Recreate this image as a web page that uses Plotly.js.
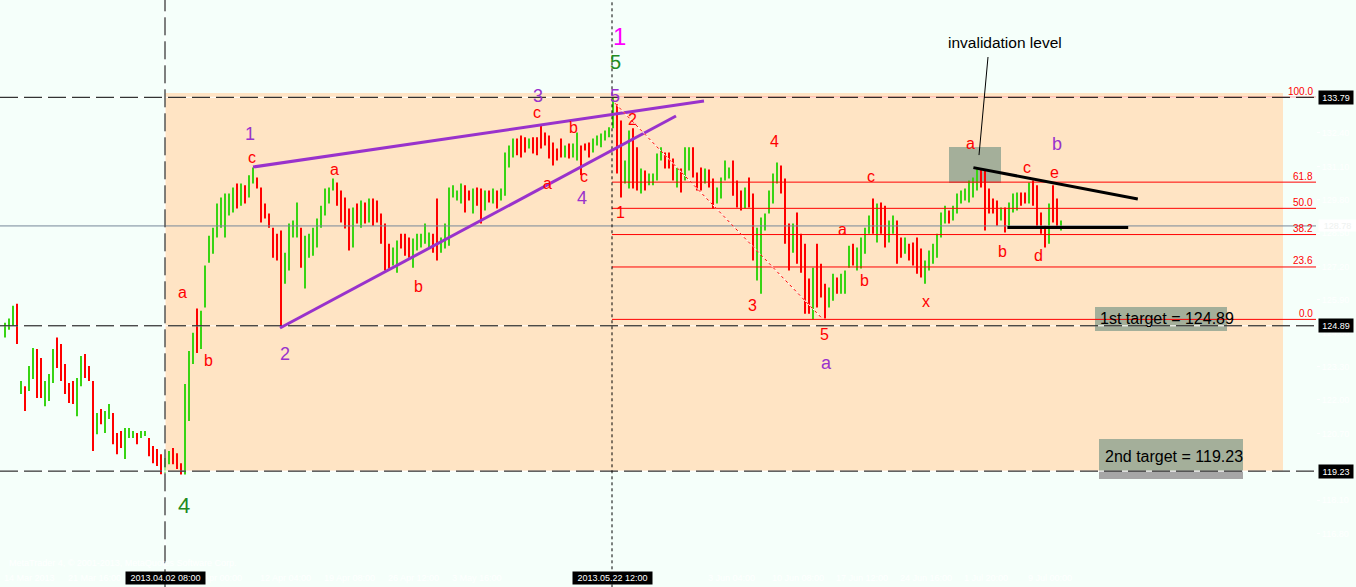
<!DOCTYPE html>
<html><head><meta charset="utf-8">
<script src="https://cdn.plot.ly/plotly-3.0.1.min.js"></script>
<style>html,body{margin:0;padding:0;background:#F5FFFA;}#chart{width:1356px;height:587px;}</style>
</head><body><div id="chart"></div>
<script>
// ---- EURJPY H4 bars (each bar = two chart bars merged) ----
const barHigh = [
125.01,125.17,125.67,125.75,122.74,122.54,123.32,124.03,123.99,123.64,
122.74,123.01,123.99,124.43,124.18,123.40,122.66,122.74,122.86,123.71,
123.79,123.32,122.74,121.49,121.65,121.57,121.84,121.49,120.71,120.79,
120.91,120.91,120.79,120.71,120.79,120.79,120.52,120.21,120.09,119.89,
119.74,120.01,120.13,119.93,119.54,122.62,123.91,124.62,125.56,125.48,
127.24,128.40,128.71,129.65,129.89,130.04,130.04,130.28,130.43,130.43,
130.36,130.75,131.06,130.67,130.28,129.65,129.26,128.71,128.48,128.60,
127.74,128.87,128.99,129.69,128.71,128.40,128.48,128.71,129.07,129.57,
130.24,130.28,130.63,130.47,130.16,129.89,129.46,129.50,129.65,129.77,
129.69,129.85,129.85,129.77,129.26,128.87,128.09,127.94,128.21,128.48,
128.48,128.33,128.29,128.48,128.48,128.87,128.52,128.48,129.85,128.33,
128.87,130.28,130.36,130.16,130.43,130.36,130.16,130.24,130.28,130.24,
130.16,130.16,130.24,130.16,130.24,131.64,131.91,132.19,132.19,132.30,
132.23,132.19,132.23,132.23,132.70,132.42,132.30,132.03,131.80,132.19,
131.91,131.99,131.99,132.42,131.91,131.99,132.03,132.19,132.30,132.38,
132.50,132.62,133.79,133.52,132.89,131.33,132.50,132.58,131.84,131.02,
130.94,130.82,130.82,131.60,131.84,131.64,131.64,131.41,131.06,131.02,
131.84,131.84,131.84,130.86,131.06,131.02,130.98,130.63,130.28,130.67,
131.33,131.06,131.33,130.55,130.16,130.28,130.67,130.04,128.71,129.11,
129.26,130.16,130.82,131.25,131.13,130.63,128.87,128.87,129.30,128.48,
128.09,126.73,127.15,128.09,127.31,126.53,126.38,126.92,126.77,126.92,
127.04,128.01,128.09,127.94,128.33,128.71,129.19,129.85,129.65,129.69,
129.57,128.99,129.19,128.99,128.33,128.33,128.09,128.13,128.33,127.90,
127.43,127.82,128.09,128.48,129.30,129.57,129.38,129.57,130.04,130.16,
130.24,130.55,130.67,131.02,131.02,130.94,130.24,129.85,129.77,129.50,
129.50,129.69,130.04,130.08,130.08,130.08,130.47,130.55,130.36,129.30,
128.79,129.65,130.36,129.85,128.99];
const barLow = [
124.43,124.74,124.89,124.18,122.23,121.57,122.35,122.82,122.08,122.08,
121.76,121.96,122.66,123.25,122.74,122.23,121.88,121.84,121.37,122.54,
122.86,122.74,120.01,120.67,121.06,120.71,121.26,120.28,119.89,120.13,
119.70,120.52,120.52,120.28,120.52,120.60,119.81,119.54,119.43,119.11,
119.15,119.50,119.50,119.31,119.10,119.10,121.18,123.40,123.83,123.99,
125.60,127.35,127.70,128.33,128.71,128.33,129.19,129.30,129.46,129.57,
129.65,129.89,130.43,130.24,128.91,129.07,128.71,127.54,127.43,124.89,
126.53,127.04,128.33,128.33,127.15,126.34,127.54,127.62,127.94,128.71,
129.19,129.65,130.16,129.57,128.91,128.68,127.82,127.94,128.87,128.71,
128.87,128.91,128.79,128.91,128.09,127.04,127.12,127.24,126.96,127.90,
127.62,127.54,127.15,127.82,127.94,128.09,127.94,127.74,127.43,127.74,
127.90,128.01,129.89,129.77,129.65,129.30,129.77,129.26,129.57,128.87,
129.38,129.69,129.65,129.46,129.77,129.96,131.06,131.45,131.53,131.45,
131.64,131.80,131.60,131.53,131.80,131.91,131.41,131.13,131.33,131.45,
131.45,131.41,131.45,131.33,130.75,131.72,131.45,131.64,131.91,131.84,
132.11,132.23,132.58,130.82,129.89,130.43,130.24,130.24,130.16,130.04,
130.16,130.36,130.36,130.55,131.33,131.02,131.02,130.55,130.28,130.08,
130.55,130.94,130.67,130.16,130.16,130.43,130.28,129.46,129.65,129.85,
130.55,130.63,129.96,129.50,129.38,129.46,129.50,127.43,126.65,126.14,
128.60,129.26,129.65,130.43,130.04,128.09,127.04,127.74,127.31,126.96,
125.36,125.36,125.14,125.60,125.99,125.17,125.60,125.87,126.14,126.14,
126.14,127.15,127.24,127.04,127.12,127.70,128.48,128.48,128.13,128.48,
127.94,128.13,128.48,127.31,127.54,127.70,127.43,127.24,126.92,126.77,
126.53,127.04,127.31,127.54,128.33,128.87,128.87,128.99,129.26,129.65,
129.77,129.69,129.89,130.16,130.28,128.60,129.26,129.26,128.79,128.99,
128.52,128.71,129.30,129.38,129.57,129.65,129.65,129.57,128.71,128.48,
127.94,128.09,128.91,128.71,128.60];
// g = up bar (green), r = down bar (red)
const barDir = ("gggrgrggrr"+"gggrrrrrgg"+"rrrgrggrrr"+"gggrggrrrr"+"ggrrrgggrg"+
                "ggggggggrg"+"rggrrrrrrr"+"ggggrggggg"+"gggrrrrgrg"+"rgrrrrrggr"+
                "rrgggggrrg"+"gggggrrgrr"+"grgrggggrr"+"rgrrrrrrrr"+"grggrrrggg"+
                "gggrrggrrg"+"rggggrrrgr"+"ggrrrgrrgg"+"ggrrrgrrgg"+"ggggrrrgrr"+
                "rrgrrrggrg"+"ggrggggrgr"+"rggrrgrrrr"+"ggggggrggg"+"ggggrrrrrg"+
                "rgggrrgrrr"+"rgrrg").split("");

// ---- levels ----
const keyLevels = [133.79, 124.89, 119.23];
const keyLevelText = ["133.79", "124.89", "119.23"];
const fibLevels = [0, 23.6, 38.2, 50, 61.8, 100];
const fibLabels = ["0.0", "23.6", "38.2", "50.0", "61.8", "100.0"];
const fibLow = 125.14, fibHigh = 133.79;
const refLine = 128.78;
const priceTicks = [132.40, 131.10, 129.80, 128.50, 127.20, 125.90, 124.60, 123.30, 122.00, 120.70, 118.10, 116.80];
const timeTickBar = [-0.75, 15.25, 47.25, 63.25, 79.25, 95.25, 111.25, 175.25, 191.25, 207.25, 223.25, 239.25, 255.25];
const timeTickText = ["14 Mar 2013", "21 Mar 16:00", "5 Apr 00:00", "12 Apr 04:00", "19 Apr 08:00", "26 Apr 12:00",
  "3 May 16:00", "3 Jun 04:00", "10 Jun 08:00", "17 Jun 12:00", "24 Jun 16:00", "1 Jul 20:00", "9 Jul 00:00"];
const markerBars = [40, 151.75];
const markerText = ["2013.04.02 08:00", "2013.05.22 12:00"];

// ---- Elliott wave labels ----
const redText  = ["a","b","c","a","b","c","b","a","c","2","1","4","3","5","a","b","c","x","a","b","c","d","e"];
const redBar   = [44.25,50.75,61.75,82.25,103.25,133,142,135.5,144.75,156.75,153.75,192.25,186.75,204.75,209.25,214.75,216.5,230.25,241.25,249.25,255.5,258.25,262.25];
const redPrice = [126.17,123.52,131.46,130.96,126.44,133.18,132.63,130.45,130.69,132.91,129.32,132.05,125.70,124.57,128.66,126.64,130.69,125.82,132.01,127.80,131.04,127.61,130.88];
const purText  = ["1","2","3","4","5","a","b"];
const purBar   = [61.25,70,133.25,144.25,152.5,205.25,263];
const purPrice = [132.36,123.79,133.84,129.87,133.84,123.44,131.97];

const FONT = "Liberation Sans, Arial, sans-serif";
const GREEN = "#38D414", RED = "#FF0000", PURPLE = "#9932CC";

const idx = barHigh.map((_, i) => i);
function pick(dir) {
  const xs = [], base = [], len = [];
  idx.forEach(i => { if (barDir[i] === dir) { xs.push(i); base.push(barLow[i]); len.push(barHigh[i] - barLow[i]); } });
  return {xs, base, len};
}
const up = pick("g"), dn = pick("r");
const traces = [
  {type: "bar", x: up.xs, y: up.len, base: up.base, width: 0.5, marker: {color: GREEN, line: {width: 0}}, hoverinfo: "skip", showlegend: false},
  {type: "bar", x: dn.xs, y: dn.len, base: dn.base, width: 0.5, marker: {color: RED, line: {width: 0}}, hoverinfo: "skip", showlegend: false}
];

const X_END = 327.75;
const shapes = [];
// zone rectangle and boxes (background)
shapes.push({type: "rect", xref: "x", yref: "y", x0: 40, x1: 319.5, y0: 119.23, y1: 133.96, fillcolor: "#FFE4C4", line: {width: 0}, layer: "below"});
const BOX = "#A4AF9A";
shapes.push({type: "rect", xref: "x", yref: "y", x0: 236, x1: 249, y0: 130.45, y1: 131.85, fillcolor: BOX, line: {width: 0}, layer: "below"});
shapes.push({type: "rect", xref: "x", yref: "y", x0: 272.5, x1: 305.5, y0: 124.69, y1: 125.62, fillcolor: BOX, line: {width: 0}, layer: "below"});
shapes.push({type: "rect", xref: "x", yref: "y", x0: 273.5, x1: 309.5, y0: 119.23, y1: 120.48, fillcolor: BOX, line: {width: 0}, layer: "below"});
shapes.push({type: "rect", xref: "x", yref: "y", x0: 273.5, x1: 309.5, y0: 118.92, y1: 119.23, fillcolor: "#A6A6A6", line: {width: 0}, layer: "below"});

// grey reference line
shapes.push({type: "line", xref: "paper", yref: "y", x0: 0, x1: 1, y0: refLine, y1: refLine, line: {color: "#778899", width: 1}, layer: "above"});
// fibonacci lines
fibLevels.forEach(l => {
  const p = fibLow + (fibHigh - fibLow) * l / 100;
  shapes.push({type: "line", xref: "x", yref: "y", x0: 151.75, x1: X_END, y0: p, y1: p, line: {color: RED, width: 1}, layer: "above"});
});
// key dashed levels
keyLevels.forEach(p => {
  shapes.push({type: "line", xref: "paper", yref: "y", x0: 0, x1: 1, y0: p, y1: p, line: {color: "#FFFFFF", width: 1}, layer: "above"});
  shapes.push({type: "line", xref: "paper", yref: "y", x0: 0, x1: 1, y0: p, y1: p, line: {color: "#000000", width: 1, dash: "18px,6px"}, layer: "above"});
});
// vertical markers
shapes.push({type: "line", xref: "x", yref: "paper", x0: 40, x1: 40, y0: -0.034, y1: 1, line: {color: "#FFFFFF", width: 1}, layer: "above"});
shapes.push({type: "line", xref: "x", yref: "paper", x0: 40, x1: 40, y0: -0.034, y1: 1, line: {color: "#000000", width: 1, dash: "18px,6px"}, layer: "above"});
shapes.push({type: "line", xref: "x", yref: "paper", x0: 151.75, x1: 151.75, y0: -0.034, y1: 1, line: {color: "#000000", width: 1, dash: "3px,3px"}, layer: "above"});
// purple wedge lines
shapes.push({type: "line", xref: "x", yref: "y", x0: 62, y0: 131.075, x1: 174.75, y1: 133.646, line: {color: PURPLE, width: 3}, layer: "above"});
shapes.push({type: "line", xref: "x", yref: "y", x0: 68.75, y0: 124.804, x1: 167.75, y1: 133.06, line: {color: PURPLE, width: 3}, layer: "above"});
// red dotted diagonal
shapes.push({type: "line", xref: "x", yref: "y", x0: 152.5, y0: 133.56, x1: 204, y1: 125.22, line: {color: "#FFFFFF", width: 1}, layer: "above"});
shapes.push({type: "line", xref: "x", yref: "y", x0: 152.5, y0: 133.56, x1: 204, y1: 125.22, line: {color: RED, width: 1, dash: "3px,3px"}, layer: "above"});
// black triangle lines
shapes.push({type: "line", xref: "x", yref: "y", x0: 242.1, y0: 131.05, x1: 283.2, y1: 129.83, line: {color: "#000000", width: 3}, layer: "above"});
shapes.push({type: "line", xref: "x", yref: "y", x0: 250.6, y0: 128.72, x1: 280.8, y1: 128.72, line: {color: "#000000", width: 3}, layer: "above"});
// pointer of the invalidation note
shapes.push({type: "line", xref: "x", yref: "y", x0: 245.75, y0: 135.36, x1: 243.5, y1: 131.54, line: {color: "#000000", width: 1}, layer: "above"});

const ann = [];
function lab(text, x, y, color, size) {
  ann.push({text: text, x: x, y: y, xref: "x", yref: "y", showarrow: false, xanchor: "center", yanchor: "middle",
    font: {family: FONT, size: size, color: color}});
}
redText.forEach((t, i) => lab(t, redBar[i], redPrice[i], RED, 16));
purText.forEach((t, i) => lab(t, purBar[i], purPrice[i], PURPLE, 18));
lab("1", 153.5, 136.14, "#FF00FF", 24);
lab("5", 152.5, 135.17, "#228B22", 20);
lab("4", 44.75, 117.91, "#228B22", 22);
lab("invalidation level", 250, 135.94, "#000000", 15.5);
ann.push({text: "1st target = 124.89", x: 273.25, y: 125.19, xref: "x", yref: "y", xanchor: "left", yanchor: "middle", showarrow: false, font: {family: FONT, size: 16, color: "#000"}});
ann.push({text: "2nd target = 119.23", x: 274.5, y: 119.78, xref: "x", yref: "y", xanchor: "left", yanchor: "middle", showarrow: false, font: {family: FONT, size: 16, color: "#000"}});
// fib labels
fibLevels.forEach((l, i) => {
  const p = fibLow + (fibHigh - fibLow) * l / 100;
  ann.push({text: fibLabels[i], x: 0.9993, y: p, xref: "paper", yref: "y", xanchor: "right", yanchor: "middle", yshift: 6,
    showarrow: false, font: {family: FONT, size: 10, color: RED}});
});
// faint time labels
timeTickBar.forEach((b, i) => {
  ann.push({text: timeTickText[i], x: b, y: -0.0176, xref: "x", yref: "paper", xanchor: "left", yanchor: "middle",
    showarrow: false, font: {family: FONT, size: 9, color: "#FFFFFF"}});
});
ann.push({text: "MetaTrader 4, \u00A9 2001-2013, MetaQuotes Software Corp.", x: 0.005, y: 0.009, xref: "paper", yref: "paper",
  xanchor: "left", yanchor: "middle", showarrow: false, font: {family: FONT, size: 9, color: "#FFFFFF"}});
// price boxes
keyLevels.forEach((p, i) => {
  ann.push({text: keyLevelText[i], x: 1.0015, y: p, xref: "paper", yref: "y", xanchor: "left", yanchor: "middle",
    showarrow: false, bgcolor: "#000000", borderpad: 0, width: 34, height: 13, font: {family: FONT, size: 9, color: "#FFFFFF"}});
});
ann.push({text: refLine.toFixed(2), x: 1.0015, y: refLine, xref: "paper", yref: "y", xanchor: "left", yanchor: "middle",
  showarrow: false, bgcolor: "#FFFFFF", borderpad: 0, width: 37, height: 11, font: {family: FONT, size: 9, color: "#EEF2F0"}});
// date boxes
markerBars.forEach((b, i) => {
  ann.push({text: markerText[i], x: b, y: -0.0176, xref: "x", yref: "paper", xanchor: "center", yanchor: "middle",
    showarrow: false, bgcolor: "#000000", borderpad: 0, width: 79, height: 12, font: {family: FONT, size: 9, color: "#FFFFFF"}});
});

const layout = {
  width: 1356, height: 587,
  margin: {l: 0, r: 40, t: 0, b: 19, pad: 0},
  paper_bgcolor: "#F5FFFA", plot_bgcolor: "#F5FFFA",
  showlegend: false, barmode: "overlay", hovermode: false,
  xaxis: {range: [-1.25, X_END], showgrid: false, zeroline: false, showticklabels: false, ticks: "", showline: false, fixedrange: true},
  yaxis: {range: [115.456, 137.58], side: "right", showgrid: false, zeroline: false, showline: false,
    tickmode: "array", tickvals: priceTicks, ticktext: priceTicks.map(v => v.toFixed(2)),
    ticks: "outside", ticklen: 3, tickcolor: "#FFFFFF", tickfont: {family: FONT, size: 9, color: "#FFFFFF"}, fixedrange: true},
  shapes: shapes, annotations: ann
};
Plotly.newPlot("chart", traces, layout, {staticPlot: true, displayModeBar: false});
</script>
</body></html>
